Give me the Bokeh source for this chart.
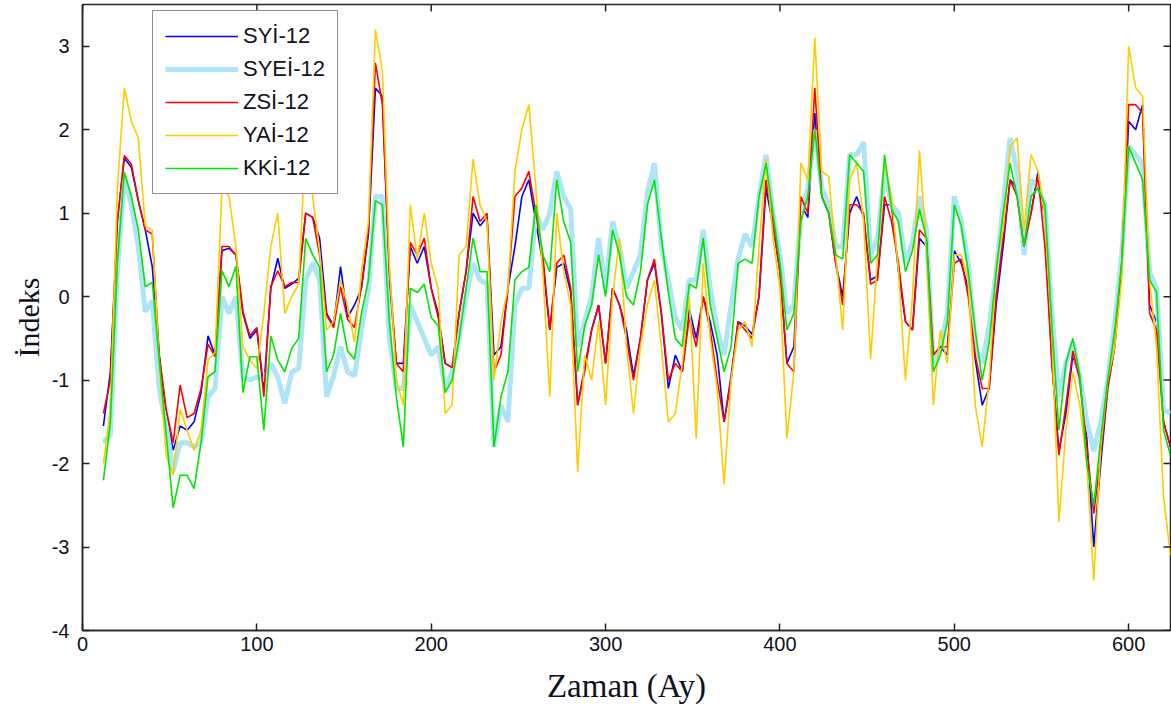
import math
from bokeh.plotting import figure
from bokeh.models import Range1d, FixedTicker, Legend, LegendItem
from bokeh.embed import file_html
from bokeh.resources import INLINE

# month index (every 4th month sampled)
months = list(range(12, 625, 4))

syi_12 = [-1.55, -0.9, 0.9, 1.66, 1.55, 1.15, 0.8, 0.36, -0.7, -1.4, -1.84, -1.55, -1.6, -1.5,
          -1.15, -0.47, -0.7, 0.55, 0.58, 0.5, -0.2, -0.5, -0.4, -1.1, 0.1, 0.46, 0.1, 0.15, 0.22,
          1.0, 0.95, 0.7, -0.2, -0.35, 0.36, -0.25, -0.1, 0.1, 0.75, 2.5, 2.4, 0.2, -0.8, -0.8, 0.6,
          0.4, 0.6, 0.1, -0.2, -0.8, -0.85, -0.2, 0.3, 1.0, 0.85, 0.95, -0.7, -0.6, 0.1, 0.6, 1.2,
          1.4, 0.9, 0.4, -0.4, 0.35, 0.4, 0.05, -1.3, -0.85, -0.4, -0.1, -0.8, 0.1, -0.1, -0.4, -0.95,
          -0.5, 0.2, 0.4, -0.2, -1.1, -0.7, -0.9, -0.15, -0.5, 0.0, -0.3, -0.7, -1.5, -0.95, -0.3,
          -0.35, -0.45, 0.0, 1.3, 0.85, 0.3, -0.8, -0.6, 1.1, 0.95, 2.2, 1.2, 1.0, 0.4, 0.0, 1.0,
          1.2, 0.95, 0.2, 0.25, 1.1, 1.1, 0.3, -0.3, -0.4, 0.7, 0.6, -0.7, -0.6, -0.7, 0.55, 0.4,
          0.1, -0.75, -1.3, -1.1, -0.1, 0.6, 1.4, 1.3, 0.65, 1.0, 1.5, 0.9, -0.8, -1.85, -1.4, -0.7,
          -1.0, -1.7, -3.0, -2.0, -1.1, -0.6, 0.3, 2.1, 2.0, 2.3, -0.1, -0.3, -1.5, -1.8]

syei_12 = [-1.75, -1.65, 0.3, 1.44, 1.1, 0.6, -0.18, -0.05, -1.1, -1.55, -2.09, -1.75, -1.75, -1.8,
           -1.75, -1.2, -1.1, 0.0, -0.2, 0.0, -0.96, -1.0, -0.96, -1.0, -0.8, -0.96, -1.28, -0.9, -0.86,
           0.2, 0.4, 0.2, -1.2, -0.95, -0.6, -0.9, -0.95, -0.4, 0.1, 1.2, 1.2, -0.5, -1.1, -1.1, -0.1,
           -0.3, -0.5, -0.7, -0.6, -1.1, -0.9, -0.5, 0.0, 0.4, 0.2, 0.15, -1.8, -1.3, -1.5, -0.1, 0.1,
           0.1, 1.0, 0.8, 1.0, 1.5, 1.2, 1.05, -0.6, -0.3, 0.0, 0.7, 0.1, 0.9, 0.6, 0.1, 0.3,
           0.5, 1.25, 1.6, 0.6, 0.2, -0.25, -0.4, 0.2, 0.2, 0.8, 0.1, -0.4, -0.7, -0.1, 0.45,
           0.75, 0.6, 1.2, 1.7, 1.0, 0.5, -0.2, -0.1, 1.0, 1.3, 2.0, 1.3, 1.1, 0.6, 0.6, 1.7,
           1.7, 1.85, 0.5, 0.7, 1.5, 1.1, 1.0, 0.4, 0.65, 1.2, 0.8, -0.8, -0.6, -0.2, 1.2, 0.9,
           0.4, -0.6, -0.8, -0.35, 0.3, 1.1, 1.9, 1.5, 0.5, 1.4, 1.3, 1.1, -0.2, -1.2, -0.8, -0.55,
           -0.95, -1.5, -1.85, -1.5, -1.0, -0.3, 0.5, 1.8, 1.7, 1.6, 0.3, 0.1, -1.35, -1.4]

zsi_12 = [-1.4, -1.0, 0.9, 1.69, 1.59, 1.15, 0.8, 0.75, -0.7, -1.35, -1.75, -1.06, -1.45, -1.4,
          -1.1, -0.57, -0.72, 0.6, 0.6, 0.5, -0.18, -0.47, -0.37, -1.2, 0.12, 0.31, 0.12, 0.17, 0.17,
          1.0, 0.95, 0.5, -0.22, -0.37, 0.12, -0.27, -0.37, 0.12, 0.8, 2.8, 2.3, 0.3, -0.8, -0.9, 0.65,
          0.5, 0.7, 0.1, -0.25, -0.8, -0.85, -0.2, 0.3, 1.2, 0.9, 1.0, -0.9, -0.7, 0.1, 1.2, 1.3,
          1.5, 1.0, 0.5, -0.4, 0.4, 0.5, 0.1, -1.3, -0.9, -0.4, -0.1, -0.8, 0.1, -0.1, -0.5, -1.0,
          -0.5, 0.2, 0.45, -0.2, -1.0, -0.8, -0.9, -0.25, -0.6, 0.0, -0.4, -1.0, -1.5, -1.0, -0.3,
          -0.4, -0.5, 0.0, 1.4, 0.9, 0.3, -0.8, -0.9, 1.2, 1.0, 2.5, 1.2, 1.0, 0.4, -0.1, 1.1,
          1.1, 1.0, 0.15, 0.2, 1.2, 0.9, 0.4, -0.3, -0.4, 0.8, 0.7, -0.7, -0.6, -0.6, 0.4, 0.45,
          0.0, -0.7, -1.1, -1.1, 0.0, 0.7, 1.4, 1.2, 0.6, 1.0, 1.45, 0.6, -0.8, -1.9, -1.3, -0.65,
          -1.0, -1.8, -2.6, -1.9, -1.1, -0.6, 0.4, 2.3, 2.3, 2.2, -0.2, -0.4, -1.5, -1.8]

yai_12 = [-2.0, -1.35, 1.3, 2.5, 2.1, 1.9, 0.85, 0.8, -0.8, -1.9, -2.14, -1.35, -1.6, -1.84,
          -1.6, -0.76, -0.67, 1.3, 1.2, 0.6, -0.6, -0.76, -0.86, -0.2, 0.6, 1.0, -0.2, 0.0, 0.15,
          1.9, 1.2, 0.55, -0.4, -0.3, 0.2, -0.1, -0.55, 0.3, 0.9, 3.2, 2.7, 0.4, -1.0, -1.3, 1.1,
          0.45, 1.0, 0.4, 0.1, -1.4, -1.3, 0.5, 0.6, 1.65, 1.1, 0.9, -1.0, -0.3, 0.1, 1.5, 2.0,
          2.3, 1.3, 0.3, -1.2, 1.0, 0.3, -0.1, -2.1, -0.7, -1.0, -0.3, -1.3, 0.0, 0.7, -0.6, -1.4,
          -0.6, -0.1, 0.2, -0.6, -1.5, -1.4, -0.8, 0.0, -1.7, 0.4, -0.5, -1.1, -2.25, -1.0, -0.4,
          -0.3, -0.6, 0.6, 1.65, 0.7, 0.1, -1.7, -0.9, 1.6, 1.4, 3.1, 1.5, 1.44, 0.5, -0.4, 1.4,
          1.6, 0.9, -0.75, 0.5, 1.6, 1.2, 0.3, -1.0, 0.0, 1.75, 0.6, -1.3, -0.4, -0.8, 0.5, 0.5,
          0.2, -1.3, -1.8, -1.0, 0.4, 0.8, 1.8, 1.9, 0.8, 1.7, 1.5, 1.0, -0.5, -2.7, -1.6, -0.9,
          -1.3, -2.0, -3.4, -1.8, -1.0, -0.6, 0.2, 3.0, 2.5, 2.4, 0.2, -0.6, -2.4, -3.1]

kki_12 = [-2.2, -1.5, 0.4, 1.49, 1.2, 0.8, 0.12, 0.17, -0.76, -1.65, -2.53, -2.14, -2.14, -2.3,
          -1.75, -0.96, -0.9, 0.31, 0.12, 0.36, -1.15, -0.72, -0.72, -1.6, -0.47, -0.76, -0.9, -0.62, -0.5,
          0.7, 0.5, 0.35, -0.9, -0.7, -0.2, -0.65, -0.75, -0.2, 0.2, 1.15, 1.1, -0.3, -1.2, -1.8, 0.1,
          0.05, 0.15, -0.25, -0.35, -1.15, -1.0, -0.5, 0.1, 0.7, 0.3, 0.3, -1.8, -1.2, -0.9, 0.2, 0.3,
          0.35, 1.1, 0.5, 0.3, 1.4, 0.9, 0.65, -0.9, -0.35, -0.1, 0.5, 0.0, 0.8, 0.5, 0.0, -0.1,
          0.3, 1.1, 1.4, 0.7, 0.05, -0.5, -0.6, 0.15, 0.1, 0.7, -0.1, -0.5, -0.9, -0.6, 0.4,
          0.45, 0.4, 1.2, 1.6, 1.0, 0.4, -0.4, -0.2, 0.9, 1.2, 2.0, 1.2, 1.0, 0.5, 0.45, 1.7,
          1.6, 1.5, 0.4, 0.5, 1.7, 1.05, 0.9, 0.3, 0.55, 1.05, 0.7, -0.9, -0.7, -0.3, 1.1, 0.85,
          0.3, -0.4, -1.0, -0.55, 0.3, 1.0, 1.6, 1.2, 0.6, 1.2, 1.3, 1.1, -0.35, -1.6, -0.8, -0.5,
          -0.95, -2.0, -2.5, -1.7, -1.0, -0.4, 0.4, 1.8, 1.6, 1.4, 0.2, 0.05, -1.6, -1.9]

series_names = ["SYİ-12", "SYEİ-12", "ZSİ-12", "YAİ-12", "KKİ-12"]
series_values = [syi_12, syei_12, zsi_12, yai_12, kki_12]
series_colors = ["#0000FF", "#ADE4F7", "#FF0000", "#FFCC00", "#00E600"]
series_widths = [1.6, 5, 1.6, 1.6, 1.6]

x_ticks = [0, 100, 200, 300, 400, 500, 600]
y_ticks = [-4, -3, -2, -1, 0, 1, 2, 3]
x_min, x_max = 0, 624
y_min, y_max = -4, 3.5

p = figure(width=1171, height=718, x_range=Range1d(x_min, x_max), y_range=Range1d(y_min, y_max),
           output_backend="svg", toolbar_location=None,
           min_border_left=82, min_border_right=1, min_border_top=4, min_border_bottom=88)
p.background_fill_color = "white"
p.border_fill_color = "white"
p.outline_line_color = "#222222"
p.outline_line_width = 1.5
p.xgrid.visible = False
p.ygrid.visible = False

renderers = []
for vals, col, w in zip(series_values, series_colors, series_widths):
    r = p.line(months, vals, line_color=col, line_width=w)
    renderers.append(r)

# mirrored inward ticks on the top and right frame edges
p.ray(x=x_ticks, y=[y_max] * len(x_ticks), length=7, length_units="screen",
      angle=-math.pi / 2, line_color="#222222", line_width=1.5)
p.ray(x=[x_max] * len(y_ticks), y=y_ticks, length=7, length_units="screen",
      angle=math.pi, line_color="#222222", line_width=1.5)

for ax in (p.xaxis[0], p.yaxis[0]):
    ax.major_tick_in = 7
    ax.major_tick_out = 0
    ax.minor_tick_line_color = None
    ax.axis_line_color = "#222222"
    ax.axis_line_width = 1.5
    ax.major_tick_line_color = "#222222"
    ax.major_tick_line_width = 1.5
    ax.major_label_text_font = "Liberation Sans"
    ax.major_label_text_font_size = "20px"
    ax.major_label_text_color = "#111122"
    ax.axis_label_text_font = "Liberation Serif"
    ax.axis_label_text_font_style = "normal"
    ax.axis_label_text_color = "#111122"

p.xaxis[0].ticker = FixedTicker(ticks=x_ticks)
p.yaxis[0].ticker = FixedTicker(ticks=y_ticks)
p.yaxis[0].major_label_overrides = {t: str(t) for t in y_ticks}
p.xaxis[0].axis_label = "Zaman (Ay)"
p.yaxis[0].axis_label = "İndeks"
p.xaxis[0].axis_label_text_font_size = "33px"
p.yaxis[0].axis_label_text_font_size = "30px"
p.xaxis[0].major_label_standoff = 6
p.xaxis[0].axis_label_standoff = 14
p.yaxis[0].major_label_standoff = 13
p.yaxis[0].axis_label_standoff = 4

legend = Legend(items=[LegendItem(label=n, renderers=[r]) for n, r in zip(series_names, renderers)],
                location=(70, 436))
legend.label_text_font = "Liberation Sans"
legend.label_text_font_size = "22px"
legend.label_text_color = "#111122"
legend.glyph_width = 73
legend.glyph_height = 20
legend.label_height = 20
legend.label_standoff = 5
legend.spacing = 7
legend.padding = 12
legend.margin = 0
legend.border_line_color = "#222222"
legend.border_line_width = 1.5
legend.background_fill_color = "white"
legend.background_fill_alpha = 1.0
p.add_layout(legend)

open("out.html", "w").write(file_html(p, INLINE))
